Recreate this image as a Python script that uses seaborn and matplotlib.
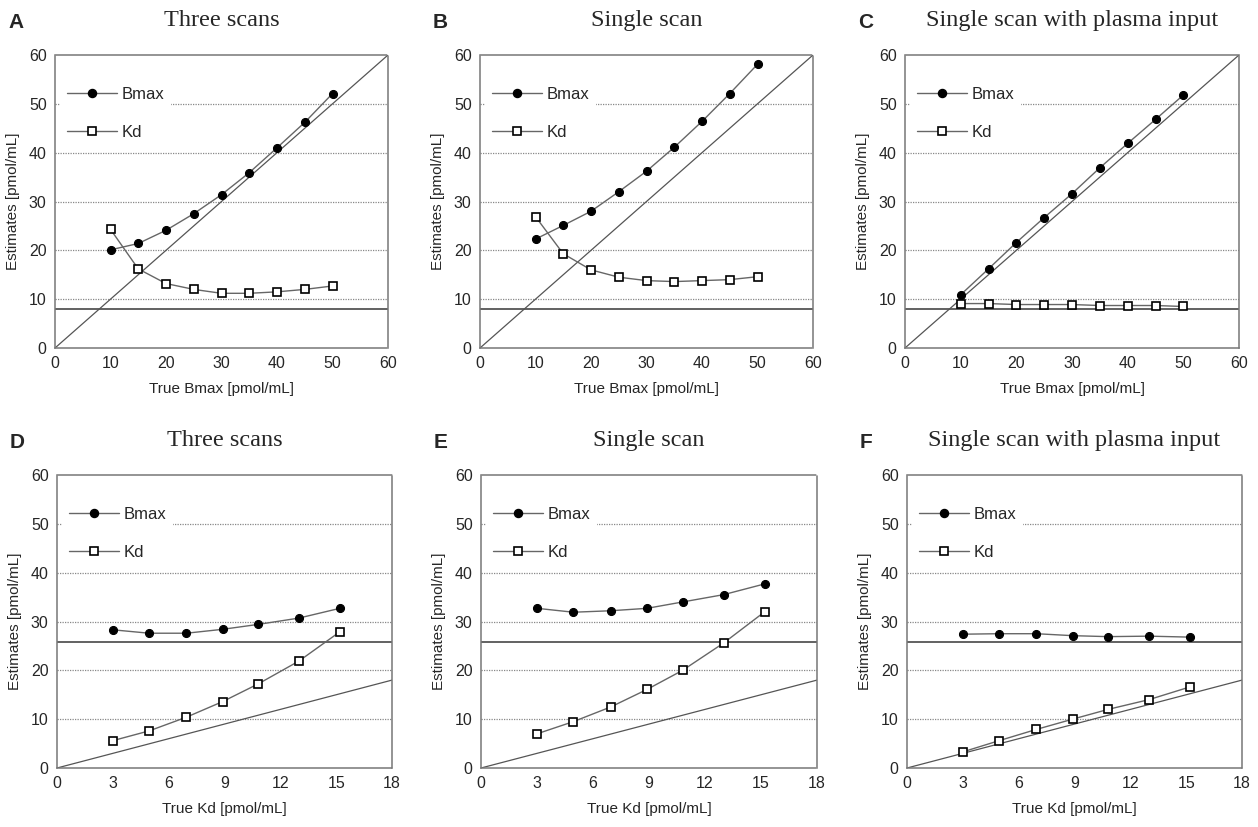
import numpy as np
import pandas as pd
import matplotlib
matplotlib.use("Agg")
import matplotlib.pyplot as plt
from matplotlib.lines import Line2D
import seaborn as sns

sns.set_style("white")
plt.rcParams["font.family"] = ["Liberation Sans", "DejaVu Sans"]

# ---- data ----
true_bmax = [10, 15, 20, 25, 30, 35, 40, 45, 50]
true_kd = [3.0, 4.95, 6.95, 8.9, 10.8, 13.0, 15.2]

a_bmax = [20.1, 21.4, 24.1, 27.5, 31.4, 35.9, 41.0, 46.2, 52.1]
a_kd = [24.3, 16.2, 13.2, 12.0, 11.2, 11.2, 11.5, 12.0, 12.7]
b_bmax = [22.3, 25.1, 28.0, 32.0, 36.2, 41.1, 46.4, 52.1, 58.1]
b_kd = [26.9, 19.3, 16.0, 14.5, 13.8, 13.6, 13.8, 14.0, 14.6]
c_bmax = [10.9, 16.2, 21.6, 26.7, 31.6, 36.9, 41.9, 46.8, 51.8]
c_kd = [9.1, 9.1, 8.9, 8.9, 8.9, 8.7, 8.7, 8.7, 8.5]

d_bmax = [28.3, 27.6, 27.6, 28.4, 29.4, 30.7, 32.7]
d_kd = [5.6, 7.6, 10.4, 13.6, 17.2, 21.9, 27.9]
e_bmax = [32.7, 31.9, 32.2, 32.7, 34.0, 35.5, 37.7]
e_kd = [7.0, 9.5, 12.5, 16.1, 20.0, 25.6, 32.0]
f_bmax = [27.4, 27.5, 27.5, 27.1, 26.9, 27.0, 26.8]
f_kd = [3.3, 5.6, 7.9, 10.0, 12.0, 14.0, 16.6]

fixed_kd = 8.0      # true Kd in top row
fixed_bmax = 25.8   # true Bmax in bottom row

letters = ["A", "B", "C", "D", "E", "F"]
titles = ["Three scans", "Single scan", "Single scan with plasma input"] * 2
xlabels = ["True Bmax [pmol/mL]"] * 3 + ["True Kd [pmol/mL]"] * 3
ylabel = "Estimates [pmol/mL]"
yticks = [0, 10, 20, 30, 40, 50, 60]
xticks_top = [0, 10, 20, 30, 40, 50, 60]
xticks_bot = [0, 3, 6, 9, 12, 15, 18]

panels = [
    (true_bmax, a_bmax, a_kd), (true_bmax, b_bmax, b_kd), (true_bmax, c_bmax, c_kd),
    (true_kd, d_bmax, d_kd), (true_kd, e_bmax, e_kd), (true_kd, f_bmax, f_kd),
]

fig = plt.figure(figsize=(12.58, 8.27), dpi=100)
W, H = 1258, 827
boxes = [
    (55, 55, 333, 293), (480, 55, 333, 293), (905, 55, 334, 293),
    (57, 475, 335, 293), (481, 475, 336, 293), (907, 475, 335, 293),
]

line_col = "#666666"
for i, (box, (xs, yb, yk)) in enumerate(zip(boxes, panels)):
    l, t, w, h = box
    ax = fig.add_axes([l / W, 1 - (t + h) / H, w / W, h / H])
    top = i < 3
    xmax = 60 if top else 18
    # grid lines
    for g in [10, 20, 30, 40, 50]:
        ax.axhline(g, color="#888888", lw=0.9, ls=(0, (1, 1)), zorder=0)
    # true value reference line
    ax.axhline(fixed_kd if top else fixed_bmax, color="#555555", lw=1.3, zorder=1)
    # identity line
    ax.plot([0, xmax], [0, xmax], color="#555555", lw=0.9, zorder=1)

    df = pd.DataFrame({"x": xs, "bmax": yb, "kd": yk})
    sns.lineplot(data=df, x="x", y="bmax", ax=ax, color=line_col, lw=1.0,
                 marker="o", markersize=5.8, markerfacecolor="black",
                 markeredgecolor="black", zorder=3)
    sns.lineplot(data=df, x="x", y="kd", ax=ax, color=line_col, lw=1.0,
                 marker="s", markersize=5.2, markerfacecolor="white",
                 markeredgecolor="black", markeredgewidth=1.2, zorder=3)

    ax.set_xlim(0, xmax)
    ax.set_ylim(0, 60)
    ax.set_xticks(xticks_top if top else xticks_bot)
    ax.set_yticks(yticks)
    ax.tick_params(labelsize=11.5, length=0, pad=6)
    ax.set_xlabel(xlabels[i], fontsize=11, labelpad=8)
    ax.set_ylabel(ylabel, fontsize=11, labelpad=6)
    for s in ax.spines.values():
        s.set_color("#777777")
        s.set_linewidth(1.1)
        s.set_linestyle((0, (1, 1)))

    handles = [
        Line2D([], [], color=line_col, lw=1.0, marker="o", markersize=5.8,
               markerfacecolor="black", markeredgecolor="black"),
        Line2D([], [], color=line_col, lw=1.0, marker="s", markersize=5.2,
               markerfacecolor="white", markeredgecolor="black", markeredgewidth=1.2),
    ]
    leg = ax.legend(handles, ["Bmax", "Kd"], loc="upper left",
                    bbox_to_anchor=(0.0, 0.93), frameon=True, facecolor="white",
                    edgecolor="none", framealpha=1, fontsize=12, handlelength=3.0,
                    labelspacing=1.35, borderpad=0.4, handletextpad=0.3,
                    borderaxespad=0.3)
    leg.set_zorder(2)

    ax.set_title(titles[i], fontsize=17.5, family="Liberation Serif", pad=21)
    fig.text((l - 47) / W, 1 - 22 / H if top else 1 - 442 / H, letters[i],
             fontsize=15, fontweight="bold", ha="left", va="center")

fig.savefig("out.png", dpi=100)
